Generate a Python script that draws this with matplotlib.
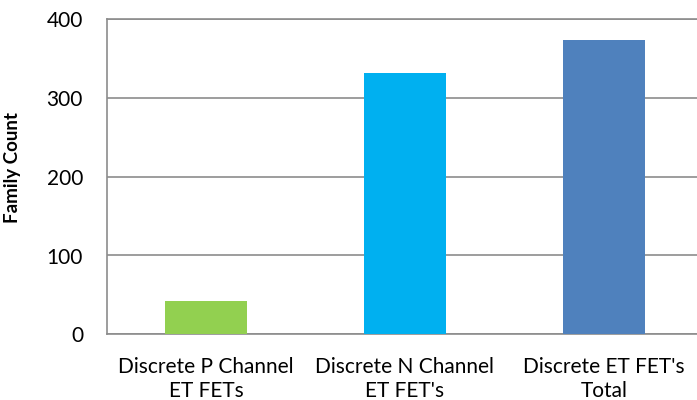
import matplotlib.pyplot as plt

plt.rcParams["font.family"] = ["Lato", "DejaVu Sans"]

categories = ["Discrete P Channel\nET FETs", "Discrete N Channel\nET FET's", "Discrete ET FET's\nTotal"]
family_count = [42, 331, 373]
bar_colors = ["#92D050", "#00B0F0", "#4F81BD"]
y_ticks = [0, 100, 200, 300, 400]

fig = plt.figure(figsize=(6.97, 4.0), dpi=100)
ax = fig.add_axes([0.153, 0.164, 0.856, 0.789])

x = list(range(len(categories)))
ax.bar(x, family_count, width=0.41, color=bar_colors, zorder=3)

ax.set_xlim(-0.5, 2.5)
ax.set_ylim(0, 400)
ax.set_yticks(y_ticks)
ax.set_xticks(x)
ax.set_xticklabels(categories, fontsize=15, linespacing=1.25)
ax.tick_params(axis="y", length=0, pad=17, labelsize=15)
ax.tick_params(axis="x", length=0, pad=16)

ax.grid(axis="y", color="#8C8C8C", linewidth=1.2, zorder=0)
for side in ["left", "bottom", "top"]:
    ax.spines[side].set_color("#8C8C8C")
    ax.spines[side].set_linewidth(1.2)
ax.spines["right"].set_visible(False)

ax.set_ylabel("Family Count", fontsize=13.5, fontweight="bold")
ax.yaxis.set_label_coords(-0.144, 0.53)

fig.savefig("out.png", dpi=100)
